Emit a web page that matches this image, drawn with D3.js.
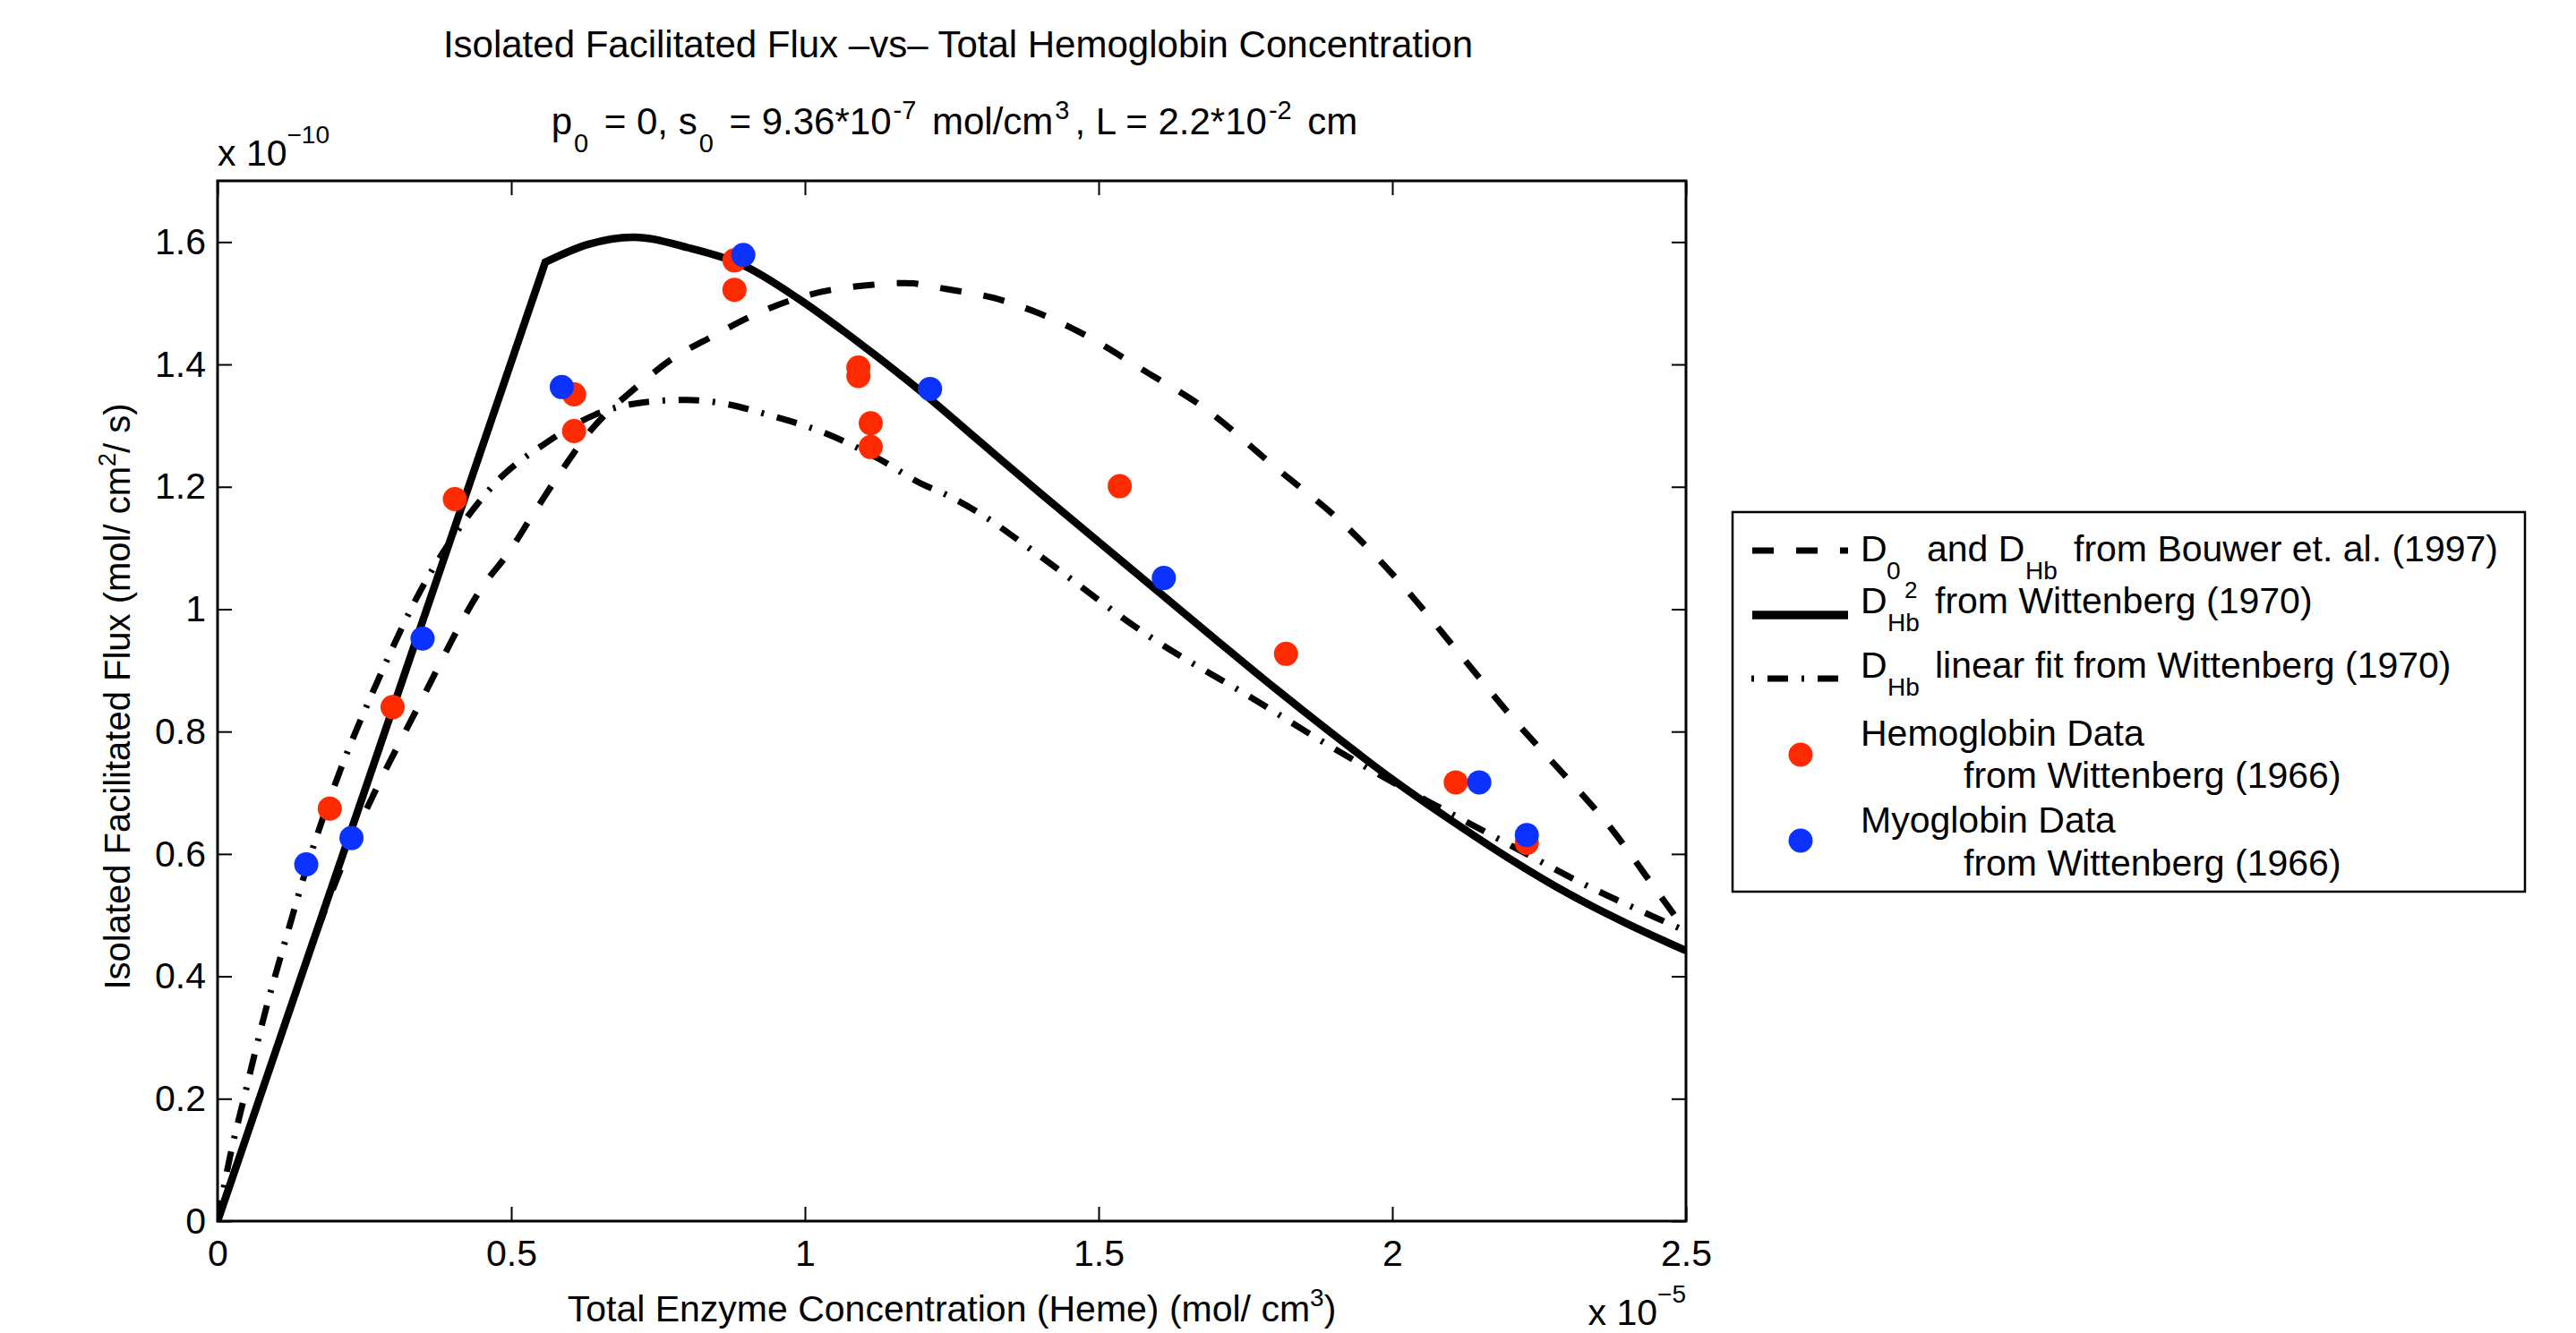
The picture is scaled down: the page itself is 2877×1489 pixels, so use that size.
<!DOCTYPE html>
<html><head><meta charset="utf-8">
<script src="https://cdn.jsdelivr.net/npm/d3@7"></script>
<style>
body{margin:0;background:#fff}
svg{display:block}
text{font-family:"Liberation Sans",Arial,Helvetica,sans-serif;fill:#000}
</style></head><body>
<svg id="chart" width="2877" height="1489"></svg>
<script>
// ---- data (x in units of 1e-5 mol/cm^3, y in units of 1e-10 mol/cm^2/s) ----
const xTicks = [0, 0.5, 1, 1.5, 2, 2.5];
const xTickLabels = ["0", "0.5", "1", "1.5", "2", "2.5"];
const yTicks = [0, 0.2, 0.4, 0.6, 0.8, 1, 1.2, 1.4, 1.6];
const yTickLabels = ["0", "0.2", "0.4", "0.6", "0.8", "1", "1.2", "1.4", "1.6"];

// D0 and DHb from Bouwer et al. (1997) — dashed
const bouwerX = [0, 0.1, 0.19, 0.219, 0.346, 0.457, 0.493, 0.539, 0.589, 0.637, 0.712, 0.780, 0.841, 0.909, 1.004, 1.113, 1.171, 1.242, 1.324, 1.392, 1.453, 1.584, 1.681, 1.797, 1.924, 2.021, 2.118, 2.215, 2.271, 2.374, 2.45, 2.5];
const bouwerY = [0, 0.28, 0.527, 0.597, 0.849, 1.045, 1.089, 1.158, 1.231, 1.294, 1.362, 1.413, 1.445, 1.479, 1.513, 1.530, 1.533, 1.523, 1.508, 1.486, 1.460, 1.386, 1.328, 1.235, 1.133, 1.035, 0.923, 0.811, 0.752, 0.640, 0.540, 0.474];

// DHb^2 from Wittenberg (1970) — solid (kink at index 1)
const wittSqX = [0, 0.558, 0.63, 0.708, 0.80, 0.895, 0.991, 1.072, 1.2, 1.3, 1.4, 1.5, 1.6, 1.7, 1.8, 1.9, 2.0, 2.1, 2.2, 2.3, 2.4, 2.5];
const wittSqY = [0, 1.567, 1.596, 1.608, 1.591, 1.562, 1.506, 1.450, 1.354, 1.272, 1.190, 1.110, 1.030, 0.950, 0.871, 0.795, 0.722, 0.655, 0.592, 0.535, 0.486, 0.442];

// DHb linear fit from Wittenberg (1970) — dash-dot
const wittLinX = [0, 0.02, 0.046, 0.082, 0.117, 0.158, 0.209, 0.270, 0.351, 0.412, 0.483, 0.555, 0.643, 0.745, 0.8, 0.868, 0.936, 1.031, 1.127, 1.196, 1.243, 1.297, 1.39, 1.584, 1.778, 1.865, 2.018, 2.094, 2.18, 2.246, 2.323, 2.409, 2.5];
const wittLinY = [0, 0.1, 0.205, 0.345, 0.464, 0.597, 0.737, 0.877, 1.04, 1.133, 1.216, 1.269, 1.318, 1.340, 1.342, 1.335, 1.318, 1.289, 1.245, 1.206, 1.186, 1.157, 1.094, 0.957, 0.845, 0.793, 0.708, 0.669, 0.625, 0.591, 0.552, 0.513, 0.474];

// Hemoglobin data, Wittenberg (1966)
const hbX = [0.191, 0.298, 0.404, 0.607, 0.607, 0.880, 0.880, 1.091, 1.091, 1.112, 1.112, 1.536, 1.819, 2.108, 2.229];
const hbY = [0.674, 0.840, 1.180, 1.351, 1.291, 1.570, 1.522, 1.395, 1.381, 1.304, 1.265, 1.201, 0.927, 0.717, 0.618];

// Myoglobin data, Wittenberg (1966)
const mbX = [0.151, 0.228, 0.349, 0.586, 0.895, 1.213, 1.611, 2.148, 2.229];
const mbY = [0.583, 0.626, 0.952, 1.363, 1.579, 1.360, 1.051, 0.717, 0.631];

// ---- drawing ----
const svg = d3.select("#chart");
const L = 243, R = 1883, T = 202, B = 1364;
const x = d3.scaleLinear().domain([0, 2.5]).range([L, R]);
const y = d3.scaleLinear().domain([0, 1.7]).range([B, T]);
const FONT = "'Liberation Sans', Arial, Helvetica, sans-serif";
const RED = "#ff2a00", BLUE = "#0c32ff";

svg.append("rect").attr("width", 2877).attr("height", 1489).attr("fill", "#fff");

svg.append("defs").append("clipPath").attr("id", "clip")
  .append("rect").attr("x", L).attr("y", T).attr("width", R - L).attr("height", B - T);

function styleAxis(g, labels) {
  g.select(".domain").remove();
  g.selectAll(".tick line").attr("stroke", "#000").attr("stroke-width", 2);
  g.selectAll(".tick text").attr("font-family", FONT).attr("font-size", 41).attr("fill", "#000");
  if (!labels) g.selectAll(".tick text").remove();
}

svg.append("g").attr("transform", `translate(0,${B})`)
  .call(d3.axisBottom(x).tickValues(xTicks).tickFormat((d, i) => xTickLabels[i]).tickSizeInner(-16).tickSizeOuter(0).tickPadding(21))
  .call(g => styleAxis(g, true));
svg.append("g").attr("transform", `translate(0,${T})`)
  .call(d3.axisTop(x).tickValues(xTicks).tickSizeInner(-16).tickSizeOuter(0))
  .call(g => styleAxis(g, false));
svg.append("g").attr("transform", `translate(${L},0)`)
  .call(d3.axisLeft(y).tickValues(yTicks).tickFormat((d, i) => yTickLabels[i]).tickSizeInner(-16).tickSizeOuter(0).tickPadding(13))
  .call(g => styleAxis(g, true));
svg.append("g").attr("transform", `translate(${R},0)`)
  .call(d3.axisRight(y).tickValues(yTicks).tickSizeInner(-16).tickSizeOuter(0))
  .call(g => styleAxis(g, false));

svg.append("rect").attr("x", L).attr("y", T).attr("width", R - L).attr("height", B - T)
  .attr("fill", "none").attr("stroke", "#000").attr("stroke-width", 3);

const plot = svg.append("g").attr("clip-path", "url(#clip)");
const smooth = d3.line().x(d => x(d[0])).y(d => y(d[1])).curve(d3.curveMonotoneX);
const straight = d3.line().x(d => x(d[0])).y(d => y(d[1]));

const bouwer = bouwerX.map((v, i) => [v, bouwerY[i]]);
const wittSq = wittSqX.map((v, i) => [v, wittSqY[i]]);
const wittLin = wittLinX.map((v, i) => [v, wittLinY[i]]);

plot.append("path").attr("d", smooth(bouwer)).attr("fill", "none").attr("stroke", "#000")
  .attr("stroke-width", 7).attr("stroke-dasharray", "24,25");
plot.append("path").attr("d", smooth(wittLin)).attr("fill", "none").attr("stroke", "#000")
  .attr("stroke-width", 7).attr("stroke-dasharray", "23,15,3,15");
plot.append("path").attr("d", straight(wittSq.slice(0, 2)) + smooth(wittSq.slice(1)).replace(/^M[^C L]*/, ""))
  .attr("fill", "none").attr("stroke", "#000").attr("stroke-width", 8.5).attr("stroke-linejoin", "miter");

const R_DOT = 13.5;
plot.selectAll("circle.hb").data(hbX.map((v, i) => [v, hbY[i]])).join("circle").attr("class", "hb")
  .attr("cx", d => x(d[0])).attr("cy", d => y(d[1])).attr("r", R_DOT).attr("fill", RED);
plot.selectAll("circle.mb").data(mbX.map((v, i) => [v, mbY[i]])).join("circle").attr("class", "mb")
  .attr("cx", d => x(d[0])).attr("cy", d => y(d[1])).attr("r", R_DOT).attr("fill", BLUE);

// ---- texts ----
function txt(parent, xx, yy, size, anchor) {
  return parent.append("text").attr("x", xx).attr("y", yy).attr("font-size", size)
    .attr("font-family", FONT).attr("text-anchor", anchor || "start").style("white-space", "pre");
}
txt(svg, 1070, 64, 42, "middle").text("Isolated Facilitated Flux –vs– Total Hemoglobin Concentration");

const sub = txt(svg, 1066, 150, 42, "middle");
const parts = [["p", 0], ["0", 1], [" = 0, s", 0], ["0", 1], [" = 9.36*10", 0], ["-7", 2], [" mol/cm", 0], ["3", 2], [", L = 2.2*10", 0], ["-2", 2], [" cm", 0]];
let cur = 0;
parts.forEach(([t, k], i) => {
  const target = k === 1 ? 20 : k === 2 ? -17 : 0;
  const dx = (i > 0 && parts[i - 1][1] !== 0) ? 6 : (k !== 0 ? 2 : 0);
  sub.append("tspan").attr("dy", target - cur).attr("dx", dx).attr("font-size", k ? 29 : 42).text(t);
  cur = target;
});

// exponent labels
const e1 = txt(svg, L, 185, 41);
e1.append("tspan").text("x 10");
e1.append("tspan").attr("dy", -25).attr("font-size", 28).text("−10");
const e2 = txt(svg, R, 1480, 41, "end");
e2.append("tspan").text("x 10");
e2.append("tspan").attr("dy", -25).attr("font-size", 28).text("−5");

// axis labels
const xl = txt(svg, 1063, 1476, 41, "middle");
xl.append("tspan").text("Total Enzyme Concentration (Heme) (mol/ cm");
xl.append("tspan").attr("dy", -17).attr("font-size", 28).text("3");
xl.append("tspan").attr("dy", 17).text(")");

const yl = txt(svg, 0, 0, 40, "middle").attr("transform", "translate(145,778) rotate(-90)");
yl.append("tspan").text("Isolated Facilitated Flux (mol/ cm");
yl.append("tspan").attr("dy", -16).attr("font-size", 27).text("2");
yl.append("tspan").attr("dy", 16).text("/ s)");

// ---- legend ----
const lg = svg.append("g");
lg.append("rect").attr("x", 1935).attr("y", 572).attr("width", 885).attr("height", 424)
  .attr("fill", "#fff").attr("stroke", "#000").attr("stroke-width", 2.5);
lg.append("line").attr("x1", 1957).attr("x2", 2064).attr("y1", 615).attr("y2", 615)
  .attr("stroke", "#000").attr("stroke-width", 7).attr("stroke-dasharray", "24,25");
lg.append("line").attr("x1", 1957).attr("x2", 2064).attr("y1", 687).attr("y2", 687)
  .attr("stroke", "#000").attr("stroke-width", 9.5);
lg.append("line").attr("x1", 1956).attr("x2", 2064).attr("y1", 758).attr("y2", 758)
  .attr("stroke", "#000").attr("stroke-width", 7).attr("stroke-dasharray", "23,15,3,15").attr("stroke-dashoffset", 38);
lg.append("circle").attr("cx", 2011).attr("cy", 843).attr("r", R_DOT).attr("fill", RED);
lg.append("circle").attr("cx", 2011).attr("cy", 939).attr("r", R_DOT).attr("fill", BLUE);

txt(lg, 2078, 627, 41).text("D");
txt(lg, 2107, 647, 28).text("0");
txt(lg, 2152, 627, 41).text("and D");
txt(lg, 2262, 647, 28).text("Hb");
txt(lg, 2316, 627, 41).text("from Bouwer et. al. (1997)");

txt(lg, 2078, 685, 41).text("D");
txt(lg, 2127, 668, 26).text("2");
txt(lg, 2108, 705, 28).text("Hb");
txt(lg, 2161, 685, 41).text("from Wittenberg (1970)");

txt(lg, 2078, 757, 41).text("D");
txt(lg, 2108, 777, 28).text("Hb");
txt(lg, 2161, 757, 41).text("linear fit from Wittenberg (1970)");

txt(lg, 2078, 833, 41).text("Hemoglobin Data");
txt(lg, 2193, 880, 41).text("from Wittenberg (1966)");
txt(lg, 2078, 930, 41).text("Myoglobin Data");
txt(lg, 2193, 978, 41).text("from Wittenberg (1966)");
</script>
</body></html>
